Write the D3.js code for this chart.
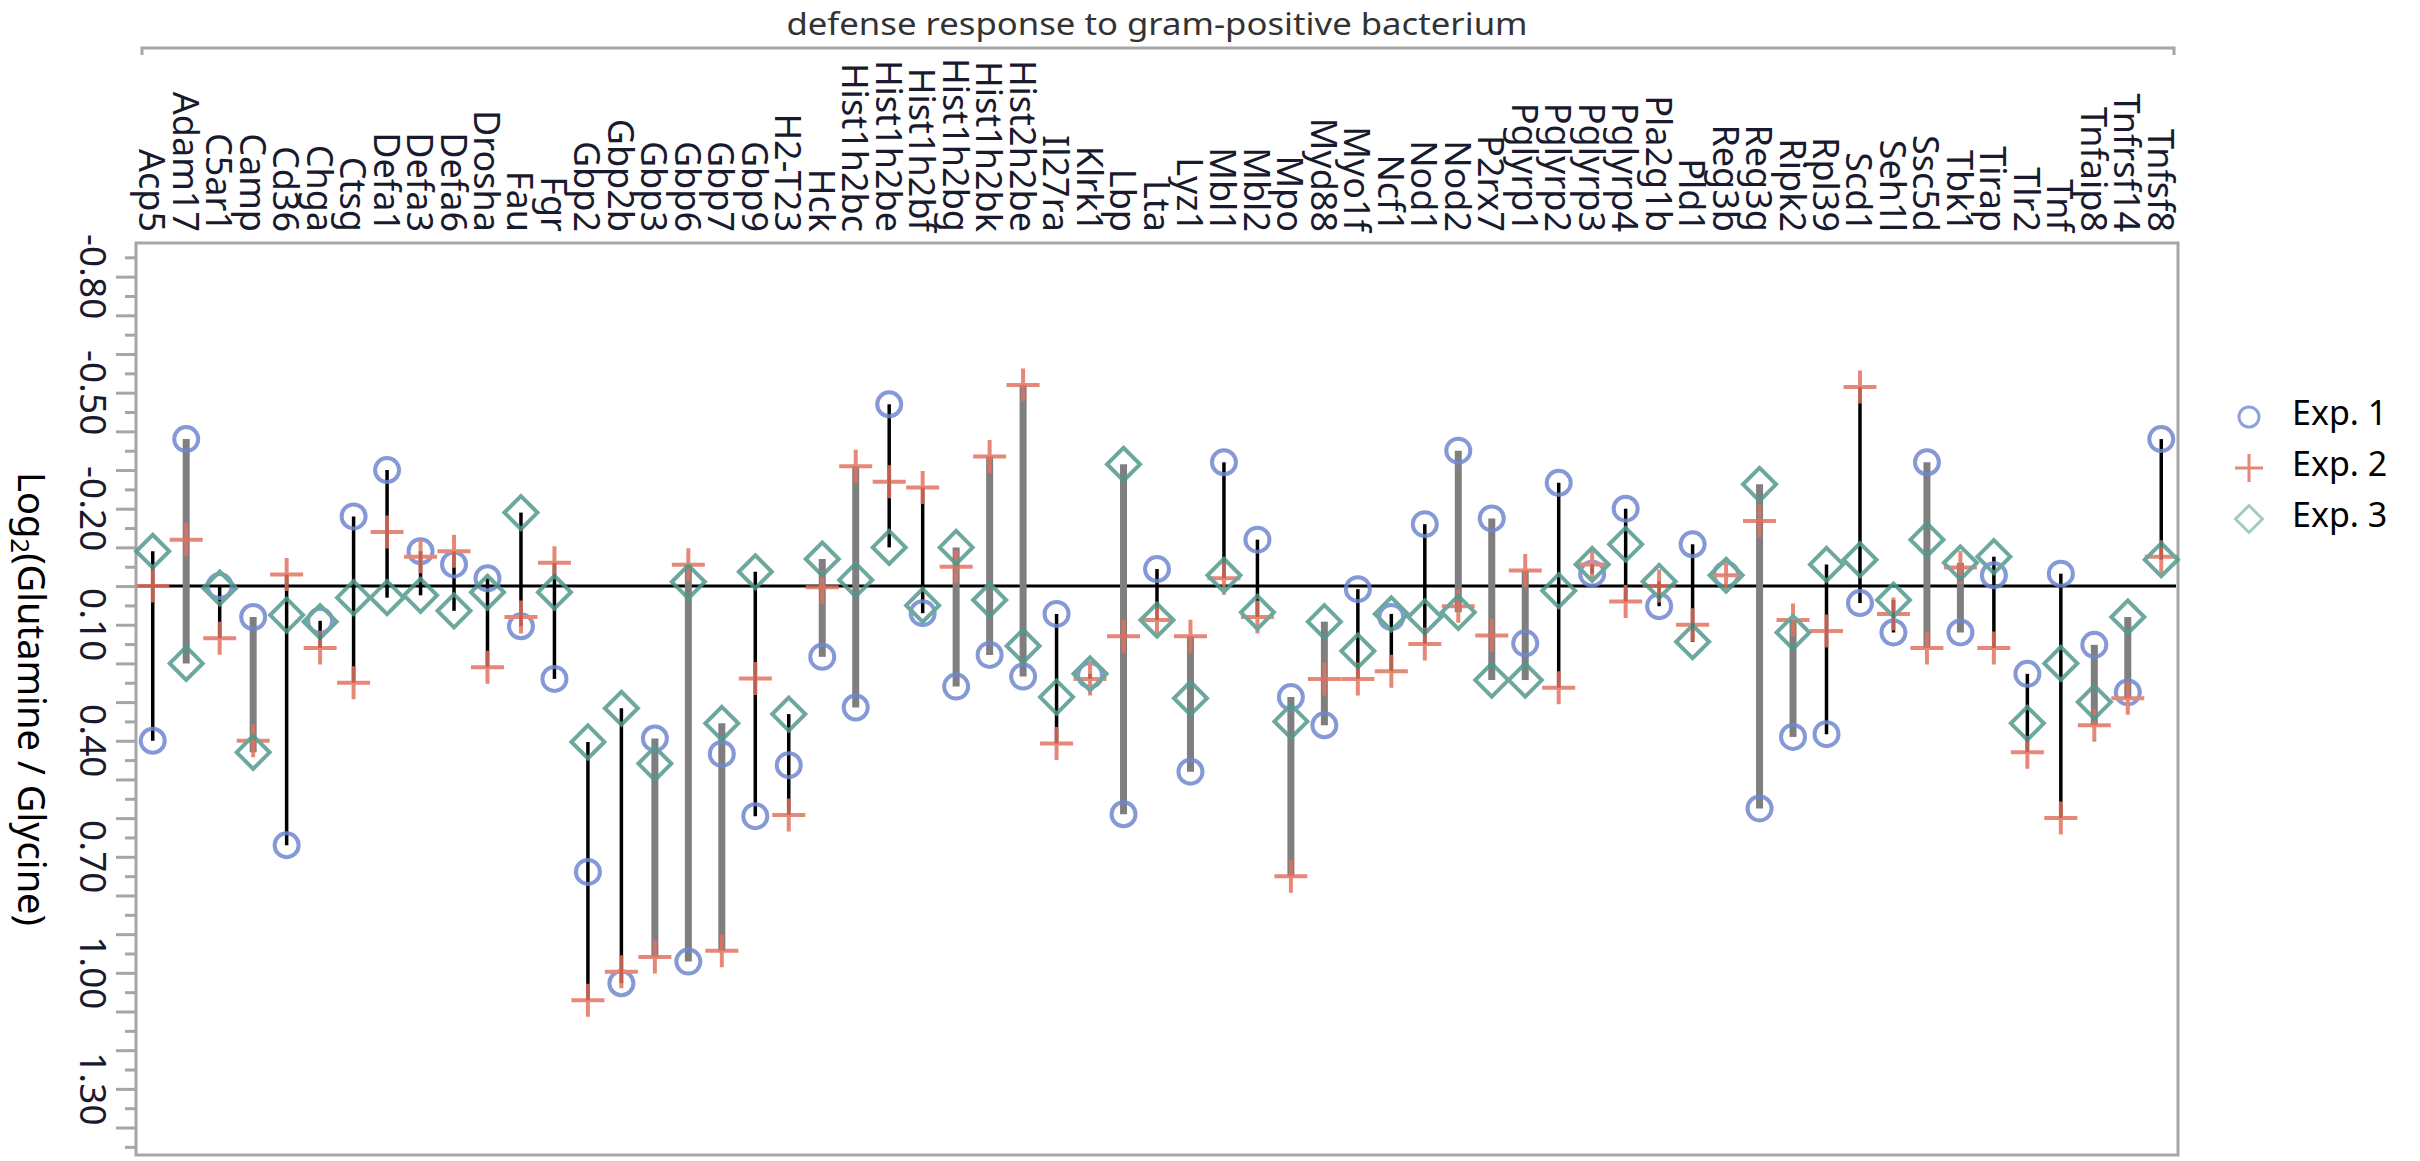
<!DOCTYPE html>
<html>
<head>
<meta charset="utf-8">
<script src="https://cdn.jsdelivr.net/npm/d3@7"></script>
<style>
  html, body { margin: 0; padding: 0; background: #fff; }
  svg { display: block; font-family: "Noto Sans", "Open Sans", sans-serif; }
</style>
</head>
<body>
<div id="chart"></div>
<script>
const GENES = [
  "Acp5", "Adam17", "C5ar1", "Camp", "Cd36", "Chga", "Ctsg", "Defa1", "Defa3", "Defa6",
  "Drosha", "Fau", "Fgr", "Gbp2", "Gbp2b", "Gbp3", "Gbp6", "Gbp7", "Gbp9", "H2-T23",
  "Hck", "Hist1h2bc", "Hist1h2be", "Hist1h2bf", "Hist1h2bg", "Hist1h2bk", "Hist2h2be", "Il27ra", "Klrk1", "Lbp",
  "Lta", "Lyz1", "Mbl1", "Mbl2", "Mpo", "Myd88", "Myo1f", "Ncf1", "Nod1", "Nod2",
  "P2rx7", "Pglyrp1", "Pglyrp2", "Pglyrp3", "Pglyrp4", "Pla2g1b", "Pld1", "Reg3b", "Reg3g", "Ripk2",
  "Rpl39", "Scd1", "Seh1l", "Ssc5d", "Tbk1", "Tirap", "Tlr2", "Tnf", "Tnfaip8", "Tnfrsf14",
  "Tnfsf8",
];

// Exp. 1 (circles)
const EXP1 = [
  0.40, -0.38, 0.00, 0.08, 0.67, 0.09, -0.18, -0.30, -0.09, -0.056,
  -0.02, 0.104, 0.24, 0.739, 1.027, 0.394, 0.971, 0.434, 0.595, 0.463,
  0.183, 0.314, -0.47, 0.07, 0.26, 0.178, 0.234, 0.072, 0.23, 0.59,
  -0.044, 0.48, -0.32, -0.12, 0.287, 0.36, 0.008, 0.08, -0.16, -0.35,
  -0.175, 0.148, -0.267, -0.032, -0.20, 0.052, -0.108, -0.03, 0.575, 0.39,
  0.383, 0.044, 0.12, -0.32, 0.12, -0.028, 0.227, -0.032, 0.152, 0.275,
  -0.38,
];

// Exp. 2 (plus signs)
const EXP2 = [
  0.00, -0.12, 0.135, 0.40, -0.03, 0.16, 0.25, -0.14, -0.076, -0.09,
  0.21, 0.08, -0.06, 1.071, 0.997, 0.959, -0.055, 0.943, 0.239, 0.592,
  0.003, -0.31, -0.27, -0.255, -0.05, -0.335, -0.52, 0.407, 0.24, 0.13,
  0.088, 0.13, -0.02, 0.08, 0.75, 0.24, 0.24, 0.22, 0.15, 0.052,
  0.128, -0.04, 0.263, -0.056, 0.04, 0.00, 0.10, -0.028, -0.168, 0.088,
  0.116, -0.515, 0.072, 0.16, -0.048, 0.16, 0.43, 0.60, 0.36, 0.29,
  -0.076,
];

// Exp. 3 (diamonds)
const EXP3 = [
  -0.09, 0.20, 0.005, 0.43, 0.075, 0.092, 0.03, 0.03, 0.024, 0.064,
  0.016, -0.19, 0.016, 0.403, 0.316, 0.459, -0.011, 0.355, -0.037, 0.331,
  -0.07, -0.016, -0.10, 0.05, -0.10, 0.036, 0.155, 0.287, 0.227, -0.315,
  0.088, 0.29, -0.028, 0.068, 0.35, 0.092, 0.168, 0.072, 0.08, 0.068,
  0.243, 0.243, 0.012, -0.056, -0.108, -0.012, 0.144, -0.028, -0.263, 0.12,
  -0.056, -0.068, 0.036, -0.12, -0.06, -0.076, 0.355, 0.20, 0.30, 0.08,
  -0.068,
];

// range line style per gene: "k" thin black, "g" thick gray
const RANGE_STYLE = [
  "k", "g", "k", "g", "k", "k", "k", "k", "k", "k",
  "k", "k", "k", "k", "k", "g", "g", "g", "k", "k",
  "g", "g", "k", "k", "g", "g", "g", "k", "k", "g",
  "k", "g", "k", "k", "g", "g", "k", "k", "k", "g",
  "g", "g", "k", "k", "k", "k", "k", "k", "g", "g",
  "k", "k", "k", "g", "g", "k", "k", "k", "g", "g",
  "k",
];

const Y_TICK_LABELS = [-0.8, -0.5, -0.2, 0.1, 0.4, 0.7, 1.0, 1.3];
const SERIES_NAMES = ["Exp. 1", "Exp. 2", "Exp. 3"];
const TITLE = "defense response to gram-positive bacterium";

const width = 2420;
const height = 1161;
const frame = { left: 136, right: 2178, top: 243, bottom: 1155 };
const colors = { exp1: "#6f87cf", exp2: "#e2735f", exp3: "#52998c", frame: "#a6a6a6" };

const svg = d3.select("#chart").append("svg").attr("width", width).attr("height", height);

const x = d3.scaleBand().domain(GENES).range([frame.left, frame.right]);
const y = d3.scaleLinear().domain([-0.887, 1.471]).range([frame.top, frame.bottom]);
const cx = (g) => x(g) + x.bandwidth() / 2;

// title bracket
svg.append("path")
  .attr("d", `M${frame.left + 6},55V48H${frame.right - 4}V55`)
  .attr("fill", "none")
  .attr("stroke", colors.frame)
  .attr("stroke-width", 3);

svg.append("text")
  .attr("transform", `translate(${(frame.left + frame.right) / 2}, 35) scale(1.12, 1)`)
  .attr("text-anchor", "middle")
  .attr("font-size", 31)
  .attr("fill", "#333")
  .text(TITLE);

// y ticks
const majorTicks = d3.range(-8, 15).map((k) => k / 10);
const minorTicks = d3.range(-17, 30, 2).map((k) => k / 20);

svg.append("g")
  .attr("transform", `translate(${frame.left}, 0)`)
  .call(d3.axisLeft(y).tickValues(majorTicks).tickSize(20).tickFormat(""))
  .call((g) => g.select(".domain").remove())
  .call((g) => g.selectAll("line").attr("stroke", colors.frame).attr("stroke-width", 3));

svg.append("g")
  .attr("transform", `translate(${frame.left}, 0)`)
  .call(d3.axisLeft(y).tickValues(minorTicks).tickSize(11).tickFormat(""))
  .call((g) => g.select(".domain").remove())
  .call((g) => g.selectAll("line").attr("stroke", colors.frame).attr("stroke-width", 3));

svg.append("g")
  .selectAll("text")
  .data(Y_TICK_LABELS)
  .join("text")
  .attr("transform", (d) => `translate(80, ${y(d)}) rotate(90)`)
  .attr("text-anchor", "middle")
  .attr("font-size", 37)
  .attr("fill", "#1a1a2e")
  .text((d) => d.toFixed(2));

// y axis title
const yTitle = svg.append("text")
  .attr("transform", `translate(18, ${(frame.top + frame.bottom) / 2}) rotate(90)`)
  .attr("text-anchor", "middle")
  .attr("font-size", 38)
  .attr("fill", "#000");
yTitle.append("tspan").text("Log");
yTitle.append("tspan").attr("font-size", 26).attr("dy", 7).text("2");
yTitle.append("tspan").attr("dy", -7).text("(Glutamine / Glycine)");

// gene labels
svg.append("g")
  .selectAll("text")
  .data(GENES)
  .join("text")
  .attr("transform", (d) => `translate(${cx(d)}, 232) rotate(90)`)
  .attr("text-anchor", "end")
  .attr("dominant-baseline", "central")
  .attr("font-size", 36)
  .attr("fill", "#1a1a2e")
  .text((d) => d);

// frame
svg.append("rect")
  .attr("x", frame.left)
  .attr("y", frame.top)
  .attr("width", frame.right - frame.left)
  .attr("height", frame.bottom - frame.top)
  .attr("fill", "none")
  .attr("stroke", colors.frame)
  .attr("stroke-width", 3);

// zero line
svg.append("line")
  .attr("x1", frame.left + 2)
  .attr("x2", frame.right - 2)
  .attr("y1", y(0))
  .attr("y2", y(0))
  .attr("stroke", "#000")
  .attr("stroke-width", 3);

const rows = GENES.map((gene, i) => ({
  gene,
  values: [EXP1[i], EXP2[i], EXP3[i]],
  style: RANGE_STYLE[i],
}));

// range lines
svg.append("g")
  .selectAll("line")
  .data(rows)
  .join("line")
  .attr("x1", (d) => cx(d.gene))
  .attr("x2", (d) => cx(d.gene))
  .attr("y1", (d) => y(d3.min(d.values)))
  .attr("y2", (d) => y(d3.max(d.values)))
  .attr("stroke", (d) => (d.style === "g" ? "#7f7f7f" : "#000"))
  .attr("stroke-width", (d) => (d.style === "g" ? 7 : 3.5));

const plusPath = (s) => `M${-s},0H${s}M0,${-s}V${s}`;
const diamondPath = (s) => `M0,${-s}L${s},0L0,${s}L${-s},0Z`;

// markers
const marks = svg.append("g").attr("fill", "none").attr("stroke-width", 4).attr("opacity", 0.85);

marks.selectAll(".exp1")
  .data(rows)
  .join("circle")
  .attr("class", "exp1")
  .attr("cx", (d) => cx(d.gene))
  .attr("cy", (d) => y(d.values[0]))
  .attr("r", 12)
  .attr("stroke", colors.exp1);

marks.selectAll(".exp2")
  .data(rows)
  .join("path")
  .attr("class", "exp2")
  .attr("transform", (d) => `translate(${cx(d.gene)}, ${y(d.values[1])})`)
  .attr("d", plusPath(16.5))
  .attr("stroke", colors.exp2);

marks.selectAll(".exp3")
  .data(rows)
  .join("path")
  .attr("class", "exp3")
  .attr("transform", (d) => `translate(${cx(d.gene)}, ${y(d.values[2])})`)
  .attr("d", diamondPath(16.5))
  .attr("stroke", colors.exp3);

// legend
const legend = svg.append("g").attr("transform", "translate(2249, 417)");
const legendItems = legend.selectAll("g")
  .data(SERIES_NAMES)
  .join("g")
  .attr("transform", (d, i) => `translate(0, ${i * 51})`);

legendItems.each(function (d, i) {
  const g = d3.select(this);
  if (i === 0) {
    g.append("circle").attr("r", 10).attr("fill", "none").attr("stroke", "#8da2dc").attr("stroke-width", 3);
  } else if (i === 1) {
    g.append("path").attr("d", plusPath(14)).attr("stroke", "#e38776").attr("stroke-width", 3);
  } else {
    g.append("path").attr("d", diamondPath(13.5)).attr("fill", "none").attr("stroke", "#a3cbc4").attr("stroke-width", 3);
  }
  g.append("text")
    .attr("x", 43)
    .attr("y", 8)
    .attr("font-size", 34)
    .attr("fill", "#000")
    .text(d);
});
</script>
</body>
</html>
